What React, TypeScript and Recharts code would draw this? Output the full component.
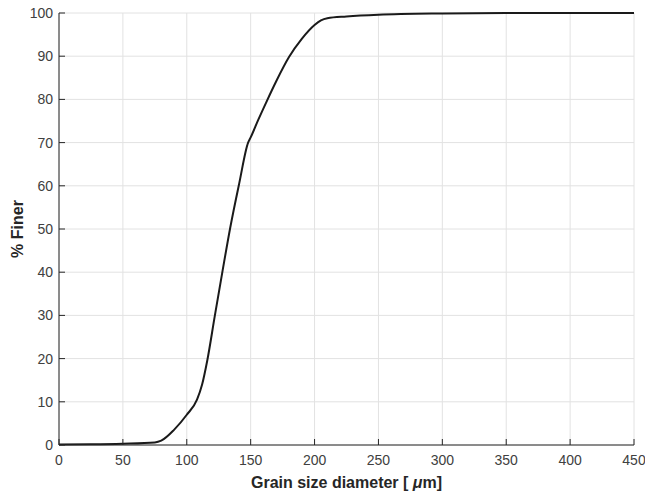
import { CartesianGrid, Label, Line, LineChart, XAxis, YAxis } from 'recharts';

// grain size (µm) vs cumulative percent finer
const grainSize = [
  0, 25, 50, 75, 80, 90, 100, 108, 112, 116, 122, 128, 134, 141, 148, 150, 156, 162, 170, 180, 190,
  200, 205, 210, 225, 250, 300, 350, 400, 450,
];
const percentFiner = [
  0.1, 0.15, 0.3, 0.6, 1.0, 3.5, 7.0, 10.5, 14, 19.5, 30, 40.3, 50.3, 60.5, 70, 71.2, 75.3, 79.2, 84.2,
  89.8, 94, 97.2, 98.3, 98.8, 99.2, 99.6, 99.9, 100, 100, 100,
];
const xTicks = [0, 50, 100, 150, 200, 250, 300, 350, 400, 450];
const yTicks = [0, 10, 20, 30, 40, 50, 60, 70, 80, 90, 100];

const data = grainSize.map((d, i) => ({ d, p: percentFiner[i] }));

const FONT = '"Liberation Sans", Arial, Helvetica, sans-serif';
const AXIS = '#262626';
const tickStyle = { fontSize: 14, fill: '#404040', fontFamily: FONT };

const XTitle = ({ viewBox }: any) => {
  const cx = viewBox.x + viewBox.width / 2;
  return (
    <text x={cx} y={482} dy='0.36em' textAnchor='middle' fontFamily={FONT} fontSize={16} fontWeight='bold' fill={AXIS}>
      Grain size diameter [ <tspan fontStyle='italic'>μ</tspan>m]
    </text>
  );
};

const YTitle = () => (
  <text
    x={17}
    y={229}
    dy='0.36em'
    textAnchor='middle'
    transform='rotate(-90 17 229)'
    fontFamily={FONT}
    fontSize={16}
    fontWeight='bold'
    fill={AXIS}
  >
    % Finer
  </text>
);

export default function App() {
  return (
    <div style={{ position: 'absolute', left: 0, top: 0, background: '#fff' }}>
      <LineChart width={645} height={495} data={data} margin={{ top: 13, right: 11, left: 0, bottom: 0 }}>
        <CartesianGrid stroke='#e2e2e2' strokeWidth={1} />

        {/* bottom / left axes with labels, ticks pointing inward */}
        <XAxis
          dataKey='d'
          type='number'
          domain={[0, 450]}
          ticks={xTicks}
          height={50}
          stroke={AXIS}
          tickSize={-6}
          tickMargin={16}
          tick={tickStyle}
          interval={0}
        >
          <Label content={<XTitle />} />
        </XAxis>
        <YAxis
          type='number'
          domain={[0, 100]}
          ticks={yTicks}
          width={59}
          stroke={AXIS}
          tickSize={-6}
          tickMargin={12}
          tick={tickStyle}
          interval={0}
        >
          <Label content={<YTitle />} />
        </YAxis>

        {/* top / right box edges */}
        <XAxis
          xAxisId='top'
          orientation='top'
          dataKey='d'
          type='number'
          domain={[0, 450]}
          ticks={xTicks}
          height={0}
          stroke={AXIS}
          tickSize={-6}
          tickFormatter={() => ''}
          interval={0}
        />
        <YAxis
          yAxisId='right'
          orientation='right'
          type='number'
          domain={[0, 100]}
          ticks={yTicks}
          width={0}
          stroke={AXIS}
          tickSize={-6}
          tickFormatter={() => ''}
          interval={0}
        />

        <Line
          dataKey='p'
          type='monotone'
          stroke='#1a1a1a'
          strokeWidth={2}
          dot={false}
          activeDot={false}
          isAnimationActive={false}
        />
      </LineChart>
    </div>
  );
}
